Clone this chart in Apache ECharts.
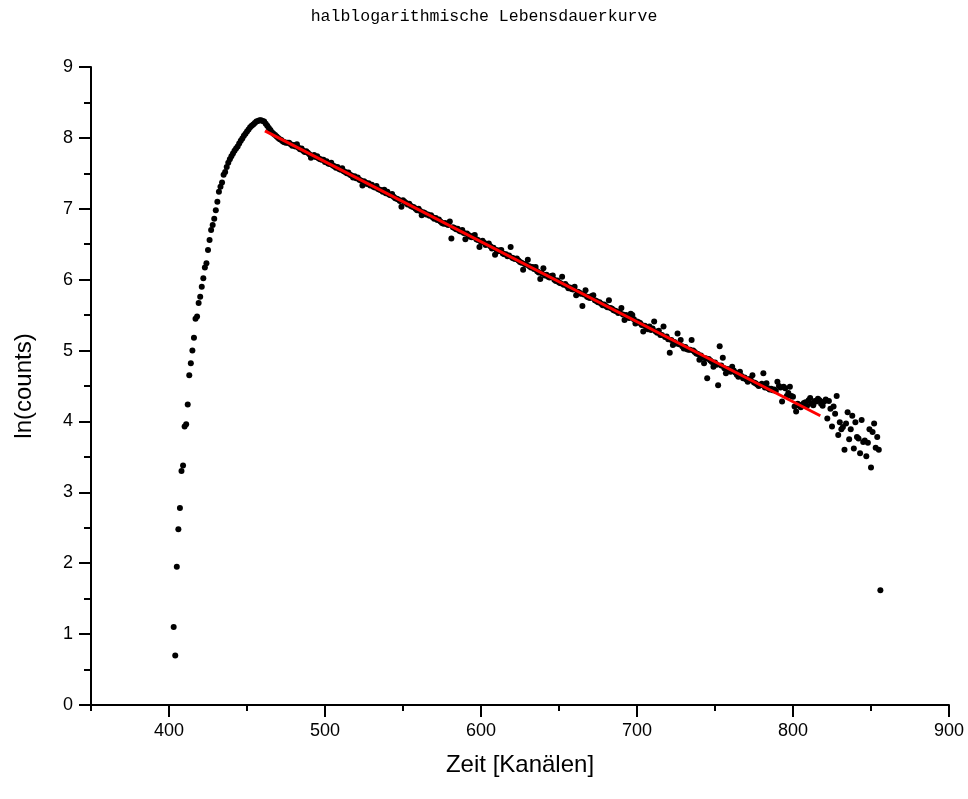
<!DOCTYPE html>
<html>
<head>
<meta charset="utf-8">
<script src="https://cdn.jsdelivr.net/npm/echarts@6/dist/echarts.min.js"></script>
<style>html,body{margin:0;padding:0;background:#fff}#c{width:968px;height:799px}</style>
</head>
<body>
<div id="c"></div>
<script>
var titleText = 'halblogarithmische Lebensdauerkurve';
var xName = 'Zeit [Kanälen]';
var yName = 'ln(counts)';
var firstChannel = 403;
var lnCounts = [
  // 403-412
  1.10, 0.70, 1.95, 2.48, 2.78, 3.30, 3.38, 3.93, 3.96, 4.24,
  // 413-422
  4.65, 4.82, 5.00, 5.18, 5.45, 5.48, 5.67, 5.76, 5.90, 6.02,
  // 423-432
  6.17, 6.23, 6.42, 6.56, 6.70, 6.77, 6.86, 6.98, 7.10, 7.24,
  // 433-442
  7.31, 7.37, 7.48, 7.52, 7.59, 7.65, 7.70, 7.74, 7.78, 7.82,
  // 443-452
  7.85, 7.88, 7.92, 7.96, 7.99, 8.03, 8.06, 8.09, 8.12, 8.15,
  // 453-462
  8.17, 8.19, 8.21, 8.23, 8.24, 8.25, 8.25, 8.24, 8.23, 8.20,
  // 463-475
  8.17, 8.14, 8.11, 8.08, 8.06, 8.04, 8.02, 8.00, 7.98, 7.97, 7.95, 7.94, 7.93,
  // 476-485
  7.93, 7.93, 7.91, 7.89, 7.90, 7.88, 7.91, 7.86, 7.84, 7.85,
  // 486-495
  7.82, 7.80, 7.81, 7.79, 7.77, 7.72, 7.74, 7.76, 7.73, 7.74,
  // 496-505
  7.71, 7.70, 7.69, 7.69, 7.66, 7.67, 7.64, 7.63, 7.65, 7.61,
  // 506-515
  7.60, 7.58, 7.59, 7.56, 7.55, 7.57, 7.53, 7.52, 7.50, 7.51,
  // 516-525
  7.48, 7.47, 7.44, 7.46, 7.43, 7.44, 7.41, 7.40, 7.33, 7.39,
  // 526-535
  7.37, 7.35, 7.36, 7.33, 7.34, 7.31, 7.30, 7.32, 7.28, 7.27,
  // 536-545
  7.26, 7.24, 7.27, 7.22, 7.24, 7.20, 7.19, 7.21, 7.17, 7.15,
  // 546-555
  7.14, 7.13, 7.11, 7.03, 7.12, 7.10, 7.08, 7.06, 7.07, 7.04,
  // 556-565
  7.03, 7.02, 7.00, 6.98, 7.00, 6.97, 6.91, 6.95, 6.94, 6.92,
  // 566-575
  6.92, 6.90, 6.91, 6.88, 6.86, 6.87, 6.84, 6.85, 6.82, 6.80,
  // 576-585
  6.79, 6.80, 6.78, 6.77, 6.82, 6.58, 6.74, 6.73, 6.71, 6.72,
  // 586-595
  6.69, 6.68, 6.70, 6.66, 6.57, 6.65, 6.63, 6.61, 6.60, 6.62,
  // 596-605
  6.63, 6.57, 6.56, 6.46, 6.53, 6.55, 6.52, 6.49, 6.50, 6.51,
  // 606-615
  6.47, 6.44, 6.45, 6.35, 6.42, 6.40, 6.41, 6.42, 6.37, 6.36,
  // 616-625
  6.36, 6.33, 6.34, 6.46, 6.31, 6.30, 6.29, 6.30, 6.27, 6.25,
  // 626-635
  6.24, 6.14, 6.22, 6.21, 6.28, 6.19, 6.17, 6.18, 6.15, 6.18,
  // 636-645
  6.12, 6.10, 6.01, 6.09, 6.16, 6.06, 6.07, 6.04, 6.03, 6.05,
  // 646-655
  6.06, 6.00, 5.98, 5.99, 5.96, 5.95, 6.04, 5.93, 5.94, 5.91,
  // 656-665
  5.88, 5.89, 5.87, 5.86, 5.90, 5.78, 5.83, 5.82, 5.80, 5.63,
  // 666-675
  5.79, 5.85, 5.76, 5.75, 5.74, 5.77, 5.78, 5.71, 5.70, 5.68,
  // 676-685
  5.68, 5.66, 5.64, 5.65, 5.63, 5.61, 5.71, 5.60, 5.59, 5.57,
  // 686-695
  5.56, 5.55, 5.53, 5.54, 5.60, 5.51, 5.43, 5.50, 5.47, 5.46,
  // 696-705
  5.52, 5.50, 5.44, 5.38, 5.41, 5.40, 5.39, 5.36, 5.27, 5.35,
  // 706-715
  5.33, 5.30, 5.34, 5.29, 5.31, 5.41, 5.27, 5.25, 5.28, 5.22,
  // 716-725
  5.22, 5.34, 5.19, 5.20, 5.16, 4.97, 5.15, 5.08, 5.12, 5.10,
  // 726-735
  5.24, 5.09, 5.15, 5.06, 5.03, 5.05, 5.02, 5.01, 5.01, 5.15,
  // 736-745
  5.00, 4.98, 4.96, 4.95, 4.87, 4.93, 4.90, 4.82, 4.89, 4.61,
  // 746-755
  4.88, 4.86, 4.84, 4.77, 4.83, 4.80, 4.51, 5.06, 4.79, 4.90,
  // 756-765
  4.75, 4.68, 4.74, 4.73, 4.70, 4.77, 4.72, 4.69, 4.66, 4.63,
  // 766-775
  4.70, 4.64, 4.61, 4.62, 4.59, 4.56, 4.60, 4.58, 4.65, 4.55,
  // 776-785
  4.54, 4.52, 4.50, 4.51, 4.53, 4.68, 4.48, 4.54, 4.47, 4.45,
  // 786-795
  4.46, 4.44, 4.45, 4.43, 4.56, 4.50, 4.48, 4.28, 4.49, 4.47,
  // 796-805
  4.36, 4.40, 4.49, 4.36, 4.35, 4.21, 4.14, 4.25, 4.22, 4.20,
  // 806-815
  4.24, 4.26, 4.27, 4.22, 4.30, 4.33, 4.25, 4.23, 4.29, 4.28,
  // 816-821
  4.32, 4.30, 4.25, 4.22, 4.28, 4.31,
  // 822-831
  4.04, 4.29, 4.18, 3.93, 4.21, 4.11, 4.36, 3.81, 3.99, 3.89,
  // 832-841
  3.92, 3.60, 3.97, 4.13, 3.75, 3.89, 4.08, 3.62, 3.99, 3.78,
  // 842-851
  3.76, 3.55, 4.02, 3.71, 3.73, 3.51, 3.70, 3.89, 3.35, 3.85,
  // 852-856
  3.97, 3.63, 3.78, 3.60, 1.62
];
var fitX = [461.5, 817.5];
var fitY = [8.10, 4.08];
var xMajorTicks = [400, 500, 600, 700, 800, 900];

var points = lnCounts.map(function (v, i) { return [firstChannel + i, v]; });
var fitLine = fitX.map(function (x, i) { return [x, fitY[i]]; });

var chart = echarts.init(document.getElementById('c'), null, {renderer: 'canvas'});
var axisFont = 'Liberation Sans, Arial, Helvetica, sans-serif';
chart.setOption({
  animation: false,
  backgroundColor: '#ffffff',
  title: {
    text: titleText,
    left: 'center',
    top: 3,
    textStyle: {fontFamily: 'Liberation Mono, DejaVu Sans Mono, monospace', fontSize: 16.5, fontWeight: 'normal', color: '#000'}
  },
  grid: {left: 91, right: 19, top: 67, bottom: 94, containLabel: false},
  xAxis: [{
    type: 'value', min: 350, max: 900, interval: 50,
    name: xName, nameLocation: 'middle', nameGap: 48,
    nameTextStyle: {fontFamily: axisFont, fontSize: 24, color: '#000'},
    axisLine: {show: true, onZero: false, lineStyle: {color: '#000', width: 2}},
    axisTick: {show: true, inside: false, length: 6, lineStyle: {color: '#000', width: 2}},
    axisLabel: {show: true, margin: 17, fontFamily: axisFont, fontSize: 18, color: '#000',
      formatter: function (v) { return v % 100 === 0 ? String(v) : ''; }},
    splitLine: {show: false}
  }, {
    type: 'value', min: 350, max: 900, position: 'bottom', gridIndex: 0,
    axisLine: {show: false},
    axisTick: {show: true, inside: false, length: 12, customValues: xMajorTicks, lineStyle: {color: '#000', width: 2}},
    axisLabel: {show: false},
    splitLine: {show: false}
  }],
  yAxis: {
    type: 'value', min: 0, max: 9, interval: 1,
    name: yName, nameLocation: 'middle', nameGap: 55, nameRotate: 90,
    nameTextStyle: {fontFamily: axisFont, fontSize: 24, color: '#000'},
    axisLine: {show: true, onZero: false, lineStyle: {color: '#000', width: 2}},
    axisTick: {show: true, inside: false, length: 12, lineStyle: {color: '#000', width: 2}},
    minorTick: {show: true, splitNumber: 2, length: 7, lineStyle: {color: '#000', width: 2}},
    axisLabel: {show: true, margin: 18, fontFamily: axisFont, fontSize: 18, color: '#000'},
    splitLine: {show: false},
    minorSplitLine: {show: false}
  },
  series: [{
    type: 'scatter', data: points, symbol: 'circle', symbolSize: 6,
    itemStyle: {color: '#000', opacity: 1}, z: 2
  }, {
    type: 'line', data: fitLine, showSymbol: false, symbol: 'none',
    lineStyle: {color: '#ff0000', width: 3}, z: 3
  }]
});
</script>
</body>
</html>
